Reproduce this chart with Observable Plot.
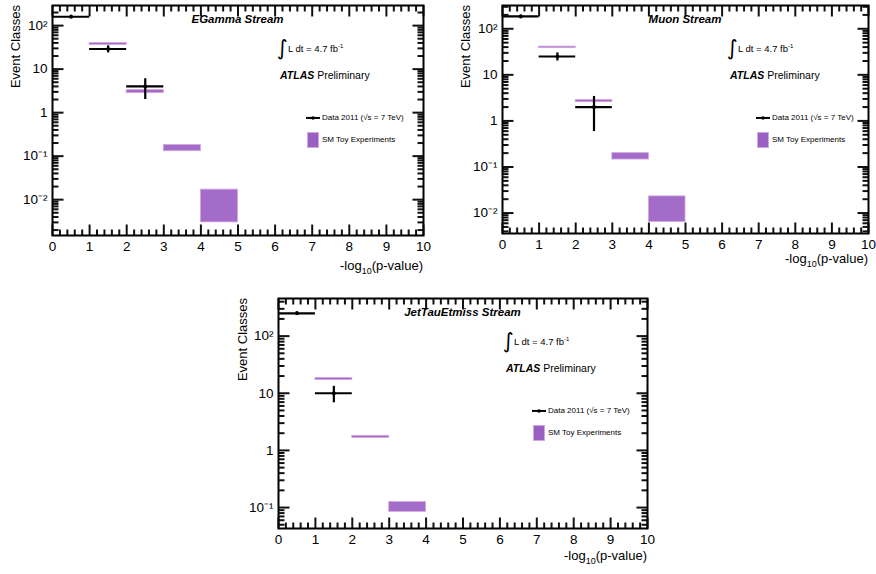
<!DOCTYPE html>
<html><head><meta charset="utf-8">
<script src="https://cdn.jsdelivr.net/npm/d3@7"></script>
<script src="https://cdn.jsdelivr.net/npm/@observablehq/plot@0.6"></script>
<style>
body{margin:0;background:#fff;}
#root{position:relative;width:876px;height:574px;overflow:hidden;background:#fff;font-family:"Liberation Sans",Arial,Helvetica,sans-serif;color:#000;}
.panel{position:absolute;}
.panel > svg{position:absolute;left:0;top:0;overflow:visible;}
.ann{position:absolute;white-space:nowrap;line-height:1;}
.ann svg{display:inline-block;}
</style></head><body><div id="root"></div>
<script>
// ---- shared axis values ----
const xTickValues = [0,1,2,3,4,5,6,7,8,9,10];
const yTickValues = [0.01, 0.1, 1, 10, 100];
const yTickLabels = ["10\u207B\u00B2", "10\u207B\u00B9", "1", "10", "10\u00B2"];
const binLo  = [0, 1, 2, 3, 4];
const binHi  = [1, 2, 3, 4, 5];
const binMid = [0.5, 1.5, 2.5, 3.5, 4.5];

// ---- EGamma Stream ----
const egData  = [160, 29, 4];
const egErrLo = [147, 23.6, 2.0];
const egErrHi = [173, 34.4, 6.0];
const egSmBin = [1, 2, 3, 4];          // index into bin arrays
const egSmLo  = [36, 2.8, 0.13, 0.0030];
const egSmHi  = [40, 3.3, 0.18, 0.017];

// ---- Muon Stream ----
const muData  = [185, 25, 2];
const muErrLo = [171, 20, 0.59];
const muErrHi = [199, 30, 3.4];
const muSmBin = [1, 2, 3, 4];
const muSmLo  = [38, 2.55, 0.145, 0.0064];
const muSmHi  = [41, 2.85, 0.20, 0.023];

// ---- JetTauEtmiss Stream ----
const jtData  = [250, 10];
const jtErrLo = [234, 6.8];
const jtErrHi = [266, 13.2];
const jtSmBin = [1, 2, 3];
const jtSmLo  = [17, 1.65, 0.084];
const jtSmHi  = [18.5, 1.8, 0.125];

const PURPLE = "#9a5fc3";
const EDGE = "#d6a6e0";
const FONT = '"Liberation Sans", Arial, Helvetica, sans-serif';

const panels = [
  {title:"EGamma Stream", left:0, top:0, width:440, height:290, ml:52, mr:17, mt:5, mb:55,
   yDomain:[0.0015, 290], data:egData, errLo:egErrLo, errHi:egErrHi, smBin:egSmBin, smLo:egSmLo, smHi:egSmHi,
   ylabX:15, xlabDy:32},
  {title:"Muon Stream", left:440, top:0, width:436, height:290, ml:62, mr:8, mt:5, mb:57,
   yDomain:[0.0036, 320], data:muData, errLo:muErrLo, errHi:muErrHi, smBin:muSmBin, smLo:muSmLo, smHi:muSmHi,
   ylabX:25, xlabDy:27},
  {title:"JetTauEtmiss Stream", left:210, top:290, width:450, height:284, ml:68, mr:13, mt:8, mb:46,
   yDomain:[0.043, 455], data:jtData, errLo:jtErrLo, errHi:jtErrHi, smBin:jtSmBin, smLo:jtSmLo, smHi:jtSmHi,
   ylabX:32, xlabDy:29}
];

const root = document.getElementById("root");

function makePanel(cfg){
  const iw = cfg.width - cfg.ml - cfg.mr, ih = cfg.height - cfg.mt - cfg.mb;
  const [ylo, yhi] = cfg.yDomain;
  const yMajor = yTickValues.filter(v => v >= ylo && v <= yhi);
  const yMinor = [];
  for (let e = Math.floor(Math.log10(ylo)); e <= Math.ceil(Math.log10(yhi)); e++)
    for (let k = 2; k <= 9; k++) { const v = k * Math.pow(10, e); if (v >= ylo && v <= yhi) yMinor.push(v); }
  const xMinor = d3.range(0, 51).map(i => i / 5).filter(v => Math.abs(v - Math.round(v)) > 1e-9);
  const di = d3.range(cfg.data.length), si = d3.range(cfg.smBin.length);
  const MAJ = 11, MIN = 6, TW = 2;
  const ratio = yhi / ylo;
  const yUp = px => Math.pow(ratio, px / ih);
  const xLen = px => 10 * px / iw;

  // inward tick segments on all four sides (positions from the axis values, lengths in scale units)
  const xt = [];
  xTickValues.forEach(v => { xt.push({x: v, a: ylo, b: ylo * yUp(MAJ)}); xt.push({x: v, a: yhi / yUp(MAJ), b: yhi}); });
  xMinor.forEach(v => { xt.push({x: v, a: ylo, b: ylo * yUp(MIN)}); xt.push({x: v, a: yhi / yUp(MIN), b: yhi}); });
  const yt = [];
  yMajor.forEach(v => { yt.push({y: v, a: 0, b: xLen(MAJ)}); yt.push({y: v, a: 10 - xLen(MAJ), b: 10}); });
  yMinor.forEach(v => { yt.push({y: v, a: 0, b: xLen(MIN)}); yt.push({y: v, a: 10 - xLen(MIN), b: 10}); });

  const plot = Plot.plot({
    width: cfg.width, height: cfg.height,
    marginLeft: cfg.ml, marginRight: cfg.mr, marginTop: cfg.mt, marginBottom: cfg.mb,
    x: {domain: [0, 10]},
    y: {type: "log", domain: cfg.yDomain},
    style: {fontFamily: FONT, fontSize: "13.5px", color: "black", background: "transparent", overflow: "visible"},
    marks: [
      Plot.rect(si, {x1: i => binLo[cfg.smBin[i]], x2: i => binHi[cfg.smBin[i]], y1: i => cfg.smLo[i], y2: i => cfg.smHi[i],
        fill: PURPLE, fillOpacity: 0.92, stroke: EDGE, strokeWidth: 0.8}),
      Plot.ruleY(di, {y: i => cfg.data[i], x1: i => binLo[i], x2: i => binHi[i], stroke: "#000", strokeWidth: 2.2}),
      Plot.ruleX(di, {x: i => binMid[i], y1: i => cfg.errLo[i], y2: i => cfg.errHi[i], stroke: "#000", strokeWidth: 2.2}),
      Plot.dot(di, {x: i => binMid[i], y: i => cfg.data[i], r: 2, fill: "#000"}),
      Plot.link(xt, {x1: "x", x2: "x", y1: "a", y2: "b", stroke: "#111", strokeWidth: TW}),
      Plot.link(yt, {x1: "a", x2: "b", y1: "y", y2: "y", stroke: "#111", strokeWidth: TW}),
      Plot.frame({stroke: "#000", strokeWidth: 2}),
      Plot.axisX({ticks: xTickValues, tickSize: 0, tickPadding: 6, fontSize: 13.5, label: null, tickFormat: d => String(d)}),
      Plot.axisY({ticks: yMajor, tickSize: 0, tickPadding: 5, fontSize: 13.5, label: null,
        tickFormat: v => yTickLabels[yTickValues.indexOf(v)]})
    ]
  });

  const div = document.createElement("div");
  div.className = "panel";
  div.style.left = cfg.left + "px"; div.style.top = cfg.top + "px";
  div.style.width = cfg.width + "px"; div.style.height = cfg.height + "px";
  div.appendChild(plot);

  const fx = cfg.ml, fy = cfg.mt;
  const add = (html, css) => { const a = document.createElement("div"); a.className = "ann"; a.innerHTML = html; Object.assign(a.style, css); div.appendChild(a); return a; };

  add(cfg.title, {left: (fx + iw / 2) + "px", top: (fy + 15) + "px", transform: "translate(-50%,-50%)",
    fontSize: "11.5px", fontWeight: "bold", fontStyle: "italic"});
  add('<span style="font-family:\'DejaVu Sans\';font-size:21px;vertical-align:middle;">\u222B</span><span style="font-size:9.5px;vertical-align:middle;">L dt = 4.7 fb<sup style="font-size:6px;vertical-align:4px;">-1</sup></span>',
    {left: (fx + 225) + "px", top: (fy + 43) + "px", transform: "translateY(-50%)"});
  add('<b><i>ATLAS</i></b> Preliminary', {left: (fx + 228) + "px", top: (fy + 70) + "px", transform: "translateY(-50%)", fontSize: "10.5px"});
  add('<svg width="14" height="6" style="vertical-align:middle"><line x1="0" y1="3" x2="14" y2="3" stroke="#000" stroke-width="2"/><circle cx="7" cy="3" r="1.8" fill="#000"/></svg><span style="margin-left:2px;vertical-align:middle">Data 2011 (\u221As = 7 TeV)</span>',
    {left: (fx + 254) + "px", top: (fy + 113) + "px", transform: "translateY(-50%)", fontSize: "8px"});
  add('<svg width="12" height="16" style="vertical-align:middle"><rect x="0.5" y="0.5" width="11" height="15" fill="' + PURPLE + '" stroke="' + EDGE + '"/></svg><span style="margin-left:3px;vertical-align:middle">SM Toy Experiments</span>',
    {left: (fx + 255) + "px", top: (fy + 135) + "px", transform: "translateY(-50%)", fontSize: "8px"});
  add('Event Classes', {left: cfg.ylabX + "px", top: fy + "px", transformOrigin: "0 0",
    transform: "rotate(-90deg) translate(-100%,-50%)", fontSize: "13px"});
  add('-log<sub style="font-size:9px;vertical-align:-4px;">10</sub>(p-value)', {left: (fx + iw) + "px", top: (fy + ih + cfg.xlabDy) + "px",
    transform: "translate(-100%,-50%)", fontSize: "13px"});

  root.appendChild(div);
}

panels.forEach(makePanel);
</script></body></html>
